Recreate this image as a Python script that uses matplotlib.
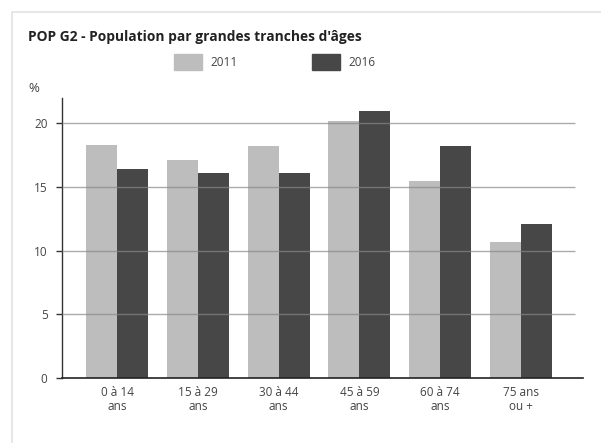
import matplotlib.pyplot as plt
import numpy as np
from matplotlib.patches import Rectangle

plt.rcParams['font.family'] = ['Open Sans', 'DejaVu Sans']

categories = ["0 à 14\nans", "15 à 29\nans", "30 à 44\nans", "45 à 59\nans", "60 à 74\nans", "75 ans\nou +"]
pop_2011 = [18.3, 17.1, 18.2, 20.2, 15.5, 10.7]
pop_2016 = [16.4, 16.1, 16.1, 21.0, 18.2, 12.1]
years = ["2011", "2016"]
colors = ["#bdbdbd", "#474747"]

fig = plt.figure(figsize=(6.01, 4.43), dpi=100)

# card border
fig.patches.append(Rectangle((12 / 601, -0.05), 1.0, 1 - 12 / 443 + 0.05,
                             transform=fig.transFigure, fill=False,
                             edgecolor="#e3e3e3", linewidth=1.2))

ax = fig.add_axes([61.5 / 601, 65 / 443, (583 - 61.5) / 601, (378 - 98) / 443])

x = np.arange(len(categories))
w = 0.385
ax.bar(x - w / 2, pop_2011, w, color=colors[0], zorder=1)
ax.bar(x + w / 2, pop_2016, w, color=colors[1], zorder=1)

ax.set_xlim(-0.69, 5.77)
ax.set_ylim(0, 22)
ax.set_yticks([0, 5, 10, 15, 20])
for v in [5, 10, 15, 20]:
    ax.plot([-0.69, 5.67], [v, v], color="#888888", lw=1, alpha=0.7, zorder=3,
            solid_capstyle="butt")

ax.set_xticks(x)
ax.set_xticklabels(categories, fontsize=8.5, color="#444444", linespacing=1.05)
ax.tick_params(axis="x", length=0, pad=6)
ax.tick_params(axis="y", length=4, width=1, color="#333333", labelsize=8.5,
               labelcolor="#444444", pad=6)

for s in ["top", "right"]:
    ax.spines[s].set_visible(False)
ax.spines["left"].set_color("#333333")
ax.spines["bottom"].set_color("#222222")
ax.spines["left"].set_linewidth(1)
ax.spines["bottom"].set_linewidth(1.2)

fig.text(28 / 601, 1 - 37 / 443, "POP G2 - Population par grandes tranches d'âges",
         fontsize=9.9, fontweight="bold", color="#222222", va="center", ha="left")
fig.text(28 / 601, 1 - 89 / 443, "%", fontsize=9.5, color="#444444", va="center", ha="left")

# legend
for lx, tx, c, lab in [(174, 210, colors[0], years[0]), (312, 348, colors[1], years[1])]:
    fig.patches.append(Rectangle((lx / 601, 1 - 70 / 443), 28 / 601, 16 / 443,
                                 transform=fig.transFigure, color=c))
    fig.text(tx / 601, 1 - 62 / 443, lab, fontsize=8.5, color="#444444", va="center", ha="left")

fig.savefig("out.png", dpi=100)
